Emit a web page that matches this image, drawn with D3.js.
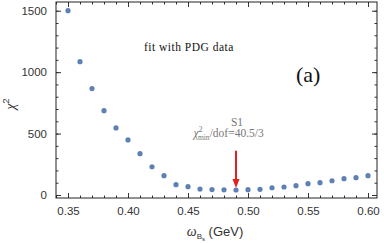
<!DOCTYPE html>
<html>
<head>
<meta charset="utf-8">
<script src="https://cdn.jsdelivr.net/npm/d3@7"></script>
<style>
  body { margin: 0; background: #fff; }
  svg { display: block; }
  .tick text { font-family: "Liberation Sans", Arial, sans-serif; font-size: 11.5px; fill: #333; }
  .serif { font-family: "Liberation Serif", "Times New Roman", serif; }
</style>
</head>
<body>
<div id="chart"></div>
<script>
// omega_Bs (GeV) scan and chi^2 values
var omega = [0.35, 0.36, 0.37, 0.38, 0.39, 0.40, 0.41, 0.42, 0.43, 0.44, 0.45, 0.46, 0.47,
             0.48, 0.49, 0.50, 0.51, 0.52, 0.53, 0.54, 0.55, 0.56, 0.57, 0.58, 0.59, 0.60];
var chi2 = [1500, 1085, 866, 686, 546, 448, 336, 230, 157, 84, 68, 48, 44,
            42, 40.5, 43, 46, 59, 65, 76, 92, 100, 116, 133, 141, 157];
var xTicks = [0.35, 0.40, 0.45, 0.50, 0.55, 0.60];
var yTicks = [0, 500, 1000, 1500];
var bestOmega = 0.49;

var W = 384, H = 243;
var margin = {top: 2, right: 7, bottom: 45, left: 56};
var width = W - margin.left - margin.right;
var height = H - margin.top - margin.bottom;

var data = omega.map(function (d, i) { return {x: d, y: chi2[i]}; });

var svg = d3.select("#chart").append("svg")
    .attr("width", W)
    .attr("height", H);

var g = svg.append("g")
    .attr("transform", "translate(" + margin.left + "," + margin.top + ")");

var x = d3.scaleLinear().domain([0.34, 0.6075]).range([0, width]);
var y = d3.scaleLinear().domain([-24.5, 1571]).range([height, 0]);

// minor ticks first, then major with labels
function minor(axis, sel) {
  sel.call(axis).call(function (s) {
    s.select(".domain").remove();
    s.selectAll("text").remove();
    s.selectAll("line").attr("stroke", "#333");
  });
}

var xMinor = d3.range(0.34, 0.6076, 0.01);
var yMinor = d3.range(0, 1571, 100);

minor(d3.axisBottom(x).tickValues(xMinor).tickSize(-2.5), g.append("g").attr("transform", "translate(0," + height + ")"));
minor(d3.axisTop(x).tickValues(xMinor).tickSize(-2.5), g.append("g"));
minor(d3.axisLeft(y).tickValues(yMinor).tickSize(-2.5), g.append("g"));
minor(d3.axisRight(y).tickValues(yMinor).tickSize(-2.5), g.append("g").attr("transform", "translate(" + width + ",0)"));

var gx = g.append("g")
    .attr("transform", "translate(0," + height + ")")
    .call(d3.axisBottom(x).tickValues(xTicks).tickSize(-5).tickPadding(9).tickFormat(d3.format(".2f")));
var gy = g.append("g")
    .call(d3.axisLeft(y).tickValues(yTicks).tickSize(-5).tickPadding(9).tickFormat(d3.format("d")));
var gxt = g.append("g").call(d3.axisTop(x).tickValues(xTicks).tickSize(-5).tickFormat(""));
var gyr = g.append("g").attr("transform", "translate(" + width + ",0)")
    .call(d3.axisRight(y).tickValues(yTicks).tickSize(-5).tickFormat(""));
[gx, gy, gxt, gyr].forEach(function (a) {
  a.select(".domain").remove();
  a.selectAll("line").attr("stroke", "#333");
});

// frame
g.append("rect")
    .attr("width", width)
    .attr("height", height)
    .attr("fill", "none")
    .attr("stroke", "#222")
    .attr("stroke-width", 1);

// points
g.selectAll(".pt")
    .data(data)
    .enter()
    .append("circle")
    .attr("class", "pt")
    .attr("cx", function (d) { return x(d.x); })
    .attr("cy", function (d) { return y(d.y); })
    .attr("r", 2.6)
    .attr("fill", "#5e81b5");

// arrow to the minimum
var ax = x(bestOmega);
var yTip = y(40.5) - 2;
var yTail = y(360);
g.append("line")
    .attr("x1", ax).attr("x2", ax)
    .attr("y1", yTail).attr("y2", yTip - 7)
    .attr("stroke", "#e3201c")
    .attr("stroke-width", 2);
g.append("path")
    .attr("d", "M" + (ax - 3.5) + "," + (yTip - 9) + "L" + (ax + 3.5) + "," + (yTip - 9) + "L" + ax + "," + yTip + "Z")
    .attr("fill", "#e3201c");

// annotations
g.append("text").attr("class", "serif")
    .attr("x", x(0.4133)).attr("y", y(1173))
    .attr("font-size", 11.5).attr("letter-spacing", 0.5).attr("fill", "#111")
    .text("fit with PDG data");

g.append("text").attr("class", "serif")
    .attr("x", x(0.54)).attr("y", y(920))
    .attr("font-size", 22).attr("fill", "#111")
    .text("(a)");

g.append("text").attr("class", "serif")
    .attr("x", ax + 1).attr("y", y(565))
    .attr("text-anchor", "middle")
    .attr("font-size", 11.5).attr("fill", "#777")
    .text("S1");

var lab = g.append("text").attr("class", "serif")
    .attr("x", x(0.4545)).attr("y", y(475))
    .attr("font-size", 11.5).attr("fill", "#777");
lab.append("tspan").attr("font-style", "italic").text("χ");
lab.append("tspan").attr("font-size", 8).attr("dy", -5).text("2");
lab.append("tspan").attr("font-size", 7.5).attr("dx", -4.5).attr("dy", 8).text("min");
lab.append("tspan").attr("dy", -3).text("/dof=40.5/3");

// axis labels
var yl = svg.append("text")
    .attr("transform", "translate(15," + (margin.top + y(740)) + ") rotate(-90)")
    .attr("text-anchor", "middle")
    .attr("font-family", "Liberation Sans, Arial, sans-serif")
    .attr("font-size", 13).attr("fill", "#333");
yl.append("tspan").attr("font-family", "Liberation Serif, serif").attr("font-style", "italic").attr("font-size", 14).text("χ");
yl.append("tspan").attr("font-size", 9).attr("dy", -6).text("2");

var xl = svg.append("text")
    .attr("x", margin.left + x(0.4725)).attr("y", 236)
    .attr("text-anchor", "middle")
    .attr("font-family", "Liberation Sans, Arial, sans-serif")
    .attr("font-size", 13).attr("fill", "#333");
xl.append("tspan").attr("font-family", "Liberation Serif, serif").attr("font-style", "italic").attr("font-size", 14).text("ω");
xl.append("tspan").attr("font-size", 8).attr("dy", 3).text("B");
xl.append("tspan").attr("font-size", 6).attr("dy", 2).text("s");
xl.append("tspan").attr("dy", -5).text(" (GeV)");
</script>
</body>
</html>
